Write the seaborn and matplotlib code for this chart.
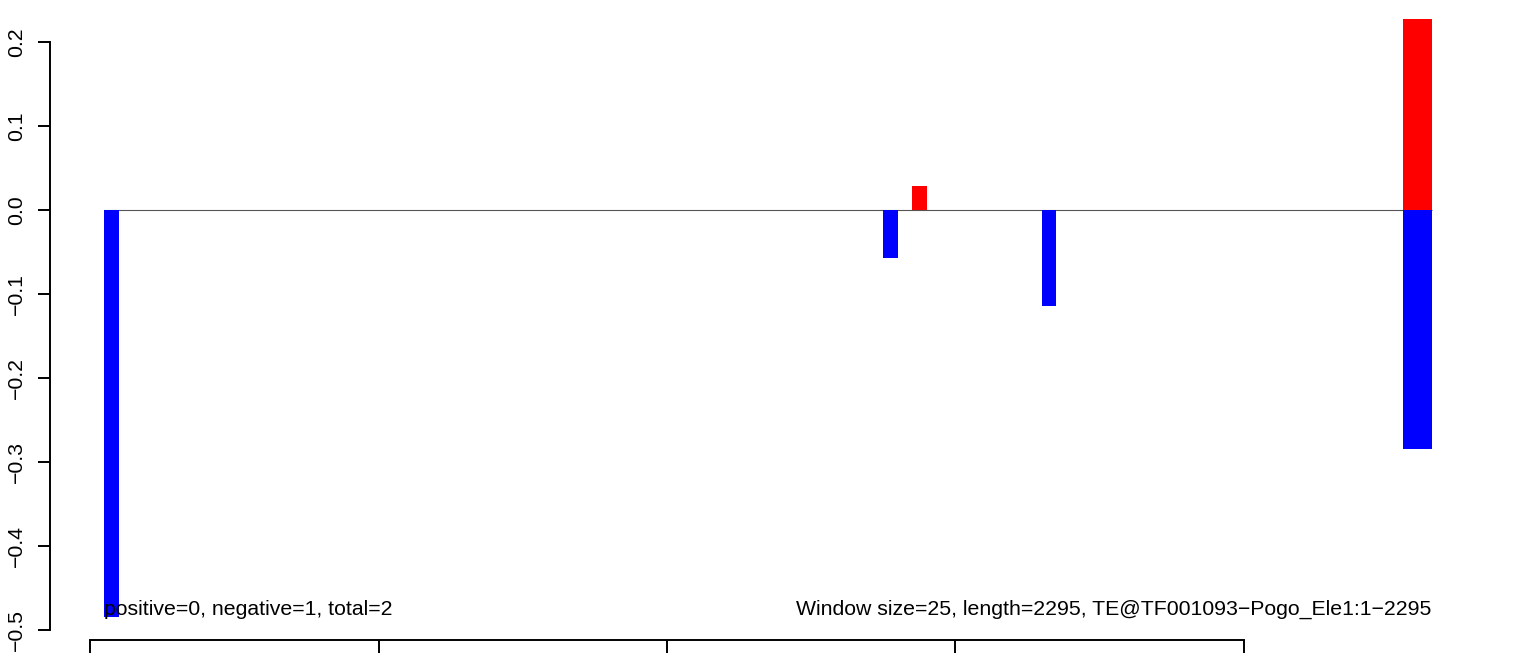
import matplotlib
matplotlib.use("Agg")
import matplotlib.pyplot as plt
import seaborn as sns
import numpy as np
import pandas as pd

# ---- data ----
win_start = [25, 1375, 1425, 1650, 2275]
win_width = [25, 25, 25, 25, 50]
pos_values = [0.0, 0.0, 0.028, 0.0, 0.227]
neg_values = [-0.484, -0.057, 0.0, -0.114, -0.284]
y_ticks = [-0.5, -0.4, -0.3, -0.2, -0.1, 0.0, 0.1, 0.2]
x_ticks = [0, 500, 1000, 1500, 2000]
left_note = "positive=0, negative=1, total=2"
right_note = "Window size=25, length=2295, TE@TF001093\u2212Pogo_Ele1:1\u22122295"

sns.set_theme(style="white")
plt.rcParams["font.family"] = ["Liberation Sans", "DejaVu Sans"]
plt.rcParams["text.color"] = "black"
plt.rcParams["xtick.color"] = "black"
plt.rcParams["ytick.color"] = "black"
plt.rcParams["axes.labelcolor"] = "black"

W, H, DPI = 1536, 659, 100
fig = plt.figure(figsize=(W / DPI, H / DPI), dpi=DPI)
ax = fig.add_axes([0, 0, 1, 1])
ax.set_facecolor("white")

# pixel mapping (R-style layout)
xscale = 1154 / 2000.0          # px per unit
x0_px = 90
ax.set_xlim(-x0_px / xscale, (W - x0_px) / xscale)
yscale = 840.0                  # px per unit
y0_px = 210
ax.set_ylim(-(H - y0_px) / yscale, y0_px / yscale)

df = pd.DataFrame({"start": win_start, "width": win_width,
                   "pos": pos_values, "neg": neg_values})

# zero baseline
ax.hlines(0, df["start"].min(), (df["start"] + df["width"]).max(),
          color="#555555", lw=0.8, zorder=1)

pdf = df[df["pos"] != 0]
ndf = df[df["neg"] != 0]
ax.bar(pdf["start"], pdf["pos"], width=pdf["width"], align="edge",
       color="#FF0000", edgecolor="none", zorder=2)
ax.bar(ndf["start"], ndf["neg"], width=ndf["width"], align="edge",
       color="#0000FF", edgecolor="none", zorder=2)

ax.text(25, -0.482, left_note, ha="left", va="baseline", fontsize=15.3,
        color="black", zorder=3)
ax.text(2325, -0.482, right_note, ha="right", va="baseline", fontsize=15.3,
        color="black", zorder=3)

# R-style axes
for s in ["top", "right"]:
    ax.spines[s].set_visible(False)
ax.spines["left"].set_position(("data", (50 - x0_px) / xscale))
ax.spines["left"].set_bounds(-0.5, 0.2)
ax.spines["bottom"].set_position(("data", -(640 - y0_px) / yscale))
ax.spines["bottom"].set_bounds(0, 2000)
for s in ["left", "bottom"]:
    ax.spines[s].set_linewidth(1.4)
    ax.spines[s].set_color("black")

ax.set_yticks(y_ticks)
ax.set_yticklabels([f"{v:.1f}".replace("-", "\u2212") for v in y_ticks],
                   rotation=90, va="center", fontsize=15.3, color="black")
ax.set_xticks(x_ticks)
ax.set_xticklabels([])
ax.tick_params(axis="both", direction="out", length=9, width=1.4,
               color="black", left=True, bottom=True)
ax.tick_params(axis="y", pad=8)
ax.grid(False)

fig.savefig("out.png", dpi=DPI)
